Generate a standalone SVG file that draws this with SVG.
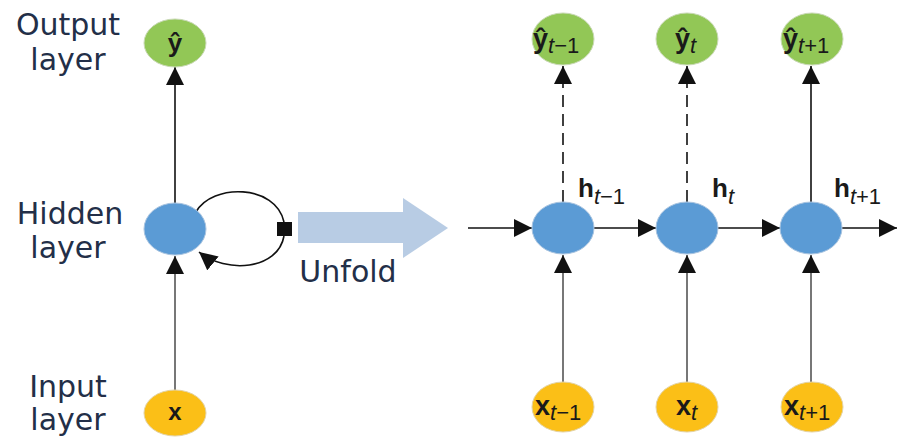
<svg xmlns="http://www.w3.org/2000/svg" width="897" height="438" viewBox="0 0 897 438">
  <defs>
    <marker id="arrow" markerUnits="userSpaceOnUse" markerWidth="20" markerHeight="18" refX="18" refY="9" orient="auto">
      <path d="M0,0 L18,9 L0,18 Z" fill="#111"/>
    </marker>
  </defs>
  <style>
    .label { font-family: "DejaVu Sans", sans-serif; font-size: 30px; fill: #232f48; text-anchor: middle; }
    .out { fill: #92c756; stroke: #c9d9b5; stroke-width: 1; }
    .hid { fill: #5b9bd5; stroke: #a9c4e0; stroke-width: 1; }
    .inp { fill: #fbbf17; stroke: #e3d3a5; stroke-width: 1; }
    .sym { font-family: "Liberation Sans", Arial, sans-serif; font-weight: bold; fill: #1a1a1a; }
    .sub { font-family: "Liberation Sans", Arial, sans-serif; font-weight: normal; }
    .it { font-style: italic; }
    .edge { stroke: #111; stroke-width: 1.6; fill: none; }
    .dash { stroke-dasharray: 12 7; }
    .up { stroke: #555; }
  </style>

  <rect width="897" height="438" fill="#fff"/>

  <!-- layer names -->
  <g id="layer-labels">
    <text class="label" x="68" y="35">Output</text>
    <text class="label" x="68" y="70">layer</text>
    <text class="label" x="70" y="224">Hidden</text>
    <text class="label" x="68" y="258">layer</text>
    <text class="label" x="68" y="397">Input</text>
    <text class="label" x="68" y="430">layer</text>
  </g>

  <!-- connectors -->
  <g id="connectors">
    <!-- folded network -->
    <line class="edge" x1="175" y1="203" x2="175" y2="67" marker-end="url(#arrow)"/>
    <line class="edge up" x1="175" y1="390" x2="175" y2="256" marker-end="url(#arrow)"/>
    <path class="edge" d="M196,212 C212,183 276,184 284,222"/>
    <path class="edge" d="M284,236 C278,270 226,274 199,252" marker-end="url(#arrow)"/>
    <rect x="277" y="222" width="15" height="14" fill="#111"/>

    <!-- unrolled network: outputs -->
    <line class="edge dash" x1="563" y1="202" x2="563" y2="66" marker-end="url(#arrow)"/>
    <line class="edge dash" x1="687" y1="202" x2="687" y2="66" marker-end="url(#arrow)"/>
    <line class="edge" x1="811" y1="202" x2="811" y2="66" marker-end="url(#arrow)"/>

    <!-- unrolled network: recurrence -->
    <line class="edge" x1="468" y1="228" x2="532" y2="228" marker-end="url(#arrow)"/>
    <line class="edge" x1="594" y1="228" x2="656" y2="228" marker-end="url(#arrow)"/>
    <line class="edge" x1="718" y1="228" x2="780" y2="228" marker-end="url(#arrow)"/>
    <line class="edge" x1="842" y1="228" x2="897" y2="228" marker-end="url(#arrow)"/>

    <!-- unrolled network: inputs -->
    <line class="edge up" x1="563" y1="382" x2="563" y2="255" marker-end="url(#arrow)"/>
    <line class="edge up" x1="687" y1="382" x2="687" y2="255" marker-end="url(#arrow)"/>
    <line class="edge up" x1="811" y1="382" x2="811" y2="255" marker-end="url(#arrow)"/>
  </g>

  <!-- unfold arrow -->
  <g id="unfold">
    <polygon points="298,212 403,212 403,198 448,228 403,258 403,243 298,243" fill="#b8cce4"/>
    <text class="label" x="348" y="282">Unfold</text>
  </g>

  <!-- folded network nodes -->
  <g id="y-hat">
    <ellipse class="out" cx="175" cy="43" rx="31" ry="24"/>
    <text class="sym" x="175" y="52" font-size="26" text-anchor="middle">ŷ</text>
  </g>
  <g id="h">
    <ellipse class="hid" cx="175" cy="229" rx="31" ry="26"/>
  </g>
  <g id="x">
    <ellipse class="inp" cx="175" cy="413" rx="31" ry="23"/>
    <text class="sym" x="175" y="420" font-size="24" text-anchor="middle">x</text>
  </g>

  <!-- unrolled output nodes -->
  <g id="y-hat-t-1">
    <ellipse class="out" cx="563" cy="39" rx="31" ry="26"/>
    <text class="sym" x="533" y="48" font-size="27">ŷ<tspan class="sub it" font-size="22" dy="5">t</tspan><tspan class="sub" font-size="22">−1</tspan></text>
  </g>
  <g id="y-hat-t">
    <ellipse class="out" cx="687" cy="39" rx="31" ry="26"/>
    <text class="sym" x="675" y="48" font-size="27">ŷ<tspan class="sub it" font-size="22" dy="5">t</tspan></text>
  </g>
  <g id="y-hat-t+1">
    <ellipse class="out" cx="812" cy="39" rx="31" ry="26"/>
    <text class="sym" x="783" y="48" font-size="27">ŷ<tspan class="sub it" font-size="22" dy="5">t</tspan><tspan class="sub" font-size="22">+1</tspan></text>
  </g>

  <!-- unrolled hidden nodes -->
  <g id="h-t-1">
    <ellipse class="hid" cx="563" cy="228" rx="31" ry="26"/>
    <text class="sym" x="578" y="197" font-size="26">h<tspan class="sub it" font-size="22" dy="7">t</tspan><tspan class="sub" font-size="22">−1</tspan></text>
  </g>
  <g id="h-t">
    <ellipse class="hid" cx="687" cy="228" rx="31" ry="26"/>
    <text class="sym" x="712" y="197" font-size="26">h<tspan class="sub it" font-size="22" dy="7">t</tspan></text>
  </g>
  <g id="h-t+1">
    <ellipse class="hid" cx="811" cy="228" rx="31" ry="26"/>
    <text class="sym" x="834" y="197" font-size="26">h<tspan class="sub it" font-size="22" dy="7">t</tspan><tspan class="sub" font-size="22">+1</tspan></text>
  </g>

  <!-- unrolled input nodes -->
  <g id="x-t-1">
    <ellipse class="inp" cx="563" cy="407" rx="31" ry="25"/>
    <text class="sym" x="535" y="415" font-size="27">x<tspan class="sub it" font-size="22" dy="5">t</tspan><tspan class="sub" font-size="22">−1</tspan></text>
  </g>
  <g id="x-t">
    <ellipse class="inp" cx="687" cy="407" rx="31" ry="25"/>
    <text class="sym" x="676" y="415" font-size="27">x<tspan class="sub it" font-size="22" dy="5">t</tspan></text>
  </g>
  <g id="x-t+1">
    <ellipse class="inp" cx="812" cy="407" rx="31" ry="25"/>
    <text class="sym" x="784" y="415" font-size="27">x<tspan class="sub it" font-size="22" dy="5">t</tspan><tspan class="sub" font-size="22">+1</tspan></text>
  </g>
</svg>
